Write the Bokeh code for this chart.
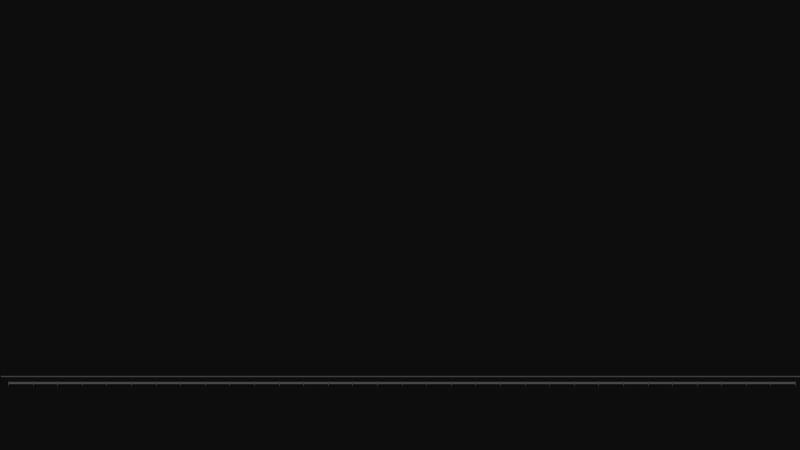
from bokeh.plotting import figure
from bokeh.embed import file_html
from bokeh.resources import INLINE
from bokeh.models import Range1d, FixedTicker

# data
steps = list(range(0, 33))
values = [0] * 33
baseline_ticks = [1]

p = figure(width=800, height=434, output_backend="svg", toolbar_location=None,
           x_range=Range1d(-0.325, 32.2), y_range=Range1d(-0.4, 60),
           background_fill_color="#0d0d0d", border_fill_color="#0d0d0d",
           min_border_left=0, min_border_right=0, min_border_top=0,
           min_border_bottom=49)
p.outline_line_color = None
p.xgrid.visible = False
p.yaxis.visible = False
p.ygrid.ticker = FixedTicker(ticks=baseline_ticks)
p.ygrid.grid_line_color = "#3c3c3c"
p.ygrid.grid_line_width = 1.5
p.line(steps, values, line_color="#454545", line_width=2.5)

ax = p.xaxis[0]
ax.ticker = FixedTicker(ticks=steps)
ax.axis_line_color = None
ax.major_tick_line_color = "#383838"
ax.major_tick_out = 0
ax.major_tick_in = 4
ax.minor_tick_line_color = None
ax.major_label_text_font_size = "2px"
ax.major_label_text_color = "#242424"
ax.major_label_standoff = 1

html = file_html(p, INLINE)
html = html.replace("<head>", "<head><style>html,body{background:#0d0d0d;}</style>", 1)
open("out.html", "w").write(html)
